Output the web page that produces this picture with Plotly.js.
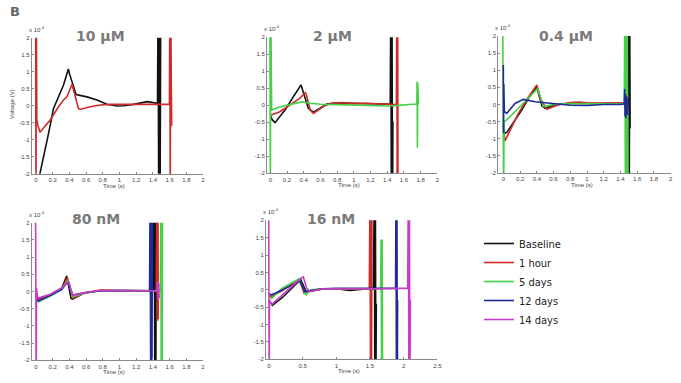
<!DOCTYPE html>
<html><head><meta charset="utf-8">
<script src="https://cdn.plot.ly/plotly-3.0.1.min.js"></script>
<style>html,body{margin:0;padding:0;background:#fff;}#chart{width:681px;height:383px;}</style>
</head><body><div id="chart"></div>
<script>
// ---------- DATA (voltage in units of 1e-4 V, time in s) ----------
const seriesNames = ["Baseline", "1 hour", "5 days", "12 days", "14 days"];
const panelTitles = ["10 µM", "2 µM", "0.4 µM", "80 nM", "16 nM"];
const xTicks = [0, 0.2, 0.4, 0.6, 0.8, 1, 1.2, 1.4, 1.6, 1.8, 2];
const xTickText = ["0", "0.2", "0.4", "0.6", "0.8", "1", "1.2", "1.4", "1.6", "1.8", "2"];
const xTicks5 = [0, 0.5, 1, 1.5, 2, 2.5];
const xTickText5 = ["0", "0.5", "1", "1.5", "2", "2.5"];
const yTicks = [-2, -1.5, -1, -0.5, 0, 0.5, 1, 1.5, 2];
const yTickText = ["-2", "-1.5", "-1", "-0.5", "0", "0.5", "1", "1.5", "2"];

// Panel 1: 10 µM
const p1_base_t = [0.02, 0.048, 0.147, 0.21, 0.33, 0.388, 0.40, 0.48, 0.61, 0.73, 0.85, 0.97, 1.05, 1.17, 1.33, 1.41, 1.455, 1.462, 1.47, 1.478, 1.486, 1.494];
const p1_base_v = [-3, -1.99, -0.86, -0.08, 0.61, 1.08, 0.95, 0.33, 0.26, 0.17, 0.04, -0.01, 0.0, 0.04, 0.12, 0.09, 0.07, 3, -3, 3, -3, 3];
const p1_1h_t = [-0.004, 0.0, 0.004, 0.01, 0.02, 0.048, 0.17, 0.27, 0.33, 0.37, 0.40, 0.432, 0.508, 0.528, 0.65, 0.77, 0.9, 1.1, 1.3, 1.5, 1.598, 1.603, 1.608, 1.613, 1.618, 1.625];
const p1_1h_v = [3, -3, 3, -0.4, -0.55, -0.78, -0.42, -0.03, 0.17, 0.26, 0.42, 0.63, -0.08, -0.11, -0.03, 0.02, 0.04, 0.04, 0.05, 0.04, 0.04, 3, -3, 3, -0.6, -0.6];

// Panel 2: 2 µM
const p2_base_t = [0.0, 0.024, 0.056, 0.176, 0.276, 0.368, 0.455, 0.516, 0.6, 0.676, 0.8, 0.95, 1.1, 1.25, 1.4, 1.436, 1.443, 1.45, 1.457, 1.464, 1.468];
const p2_base_v = [-0.3, -0.43, -0.51, -0.14, 0.25, 0.6, -0.09, -0.2, -0.08, 0.04, 0.07, 0.06, 0.05, 0.05, 0.04, 0.03, 3, -3, 3, -3, -0.48];
const p2_1h_t = [0.005, 0.017, 0.116, 0.2, 0.316, 0.36, 0.416, 0.43, 0.476, 0.516, 0.65, 0.735, 0.85, 1.0, 1.15, 1.3, 1.45, 1.51, 1.515, 1.52, 1.525, 1.53];
const p2_1h_v = [-0.3, -0.28, -0.19, -0.05, 0.16, 0.22, 0.37, 0.33, -0.14, -0.24, -0.01, 0.06, 0.08, 0.05, 0.06, 0.05, 0.03, 0.02, 3, -3, 3, -3];
const p2_5d_t = [-0.005, 0.0, 0.005, 0.016, 0.1, 0.196, 0.3, 0.376, 0.476, 0.6, 0.8, 1.0, 1.2, 1.4, 1.5, 1.6, 1.7, 1.755, 1.758, 1.762, 1.766, 1.77, 1.773, 1.78];
const p2_5d_v = [3, -3, 3, -0.14, -0.06, 0.0, 0.06, 0.1, 0.06, 0.03, 0.02, 0.0, 0.0, -0.02, -0.01, 0.02, 0.03, 0.04, 0.7, -1.25, 0.65, -1.2, 0.05, 0.05];

// Panel 3: 0.4 µM
const p3_base_t = [0.0, 0.012, 0.04, 0.22, 0.3, 0.4, 0.46, 0.5, 0.62, 0.8, 1.0, 1.2, 1.4, 1.495, 1.5, 1.505, 1.51, 1.515];
const p3_base_v = [-0.6, -0.84, -0.82, -0.16, 0.18, 0.52, -0.04, -0.11, -0.01, 0.04, 0.03, 0.04, 0.03, 0.03, 3, -3, 3, -0.7];
const p3_1h_t = [0.0, 0.02, 0.04, 0.18, 0.3, 0.4, 0.45, 0.52, 0.66, 0.8, 0.9, 1.0, 1.2, 1.4, 1.46];
const p3_1h_v = [-0.7, -1.06, -0.96, -0.26, 0.22, 0.57, 0.13, -0.14, -0.01, 0.06, 0.07, 0.05, 0.04, 0.05, 0.03];
const p3_5d_t = [-0.008, -0.004, 0.0, 0.004, 0.008, 0.04, 0.18, 0.28, 0.38, 0.41, 0.46, 0.48, 0.6, 0.8, 1.0, 1.2, 1.4, 1.445, 1.452, 1.459, 1.466, 1.473, 1.48, 1.487];
const p3_5d_v = [3, -3, 3, -3, -0.5, -0.45, -0.11, 0.13, 0.37, 0.47, 0.08, -0.06, 0.0, 0.03, 0.02, 0.03, 0.02, 0.02, 3, -3, 3, -3, 3, -3];
const p3_12d_t = [0.0, 0.003, 0.006, 0.012, 0.04, 0.14, 0.24, 0.38, 0.58, 0.8, 1.0, 1.2, 1.4, 1.445, 1.45, 1.455, 1.46, 1.465, 1.47, 1.475, 1.48, 1.485, 1.49, 1.5];
const p3_12d_v = [1.15, -0.84, 0.6, -0.2, -0.26, 0.03, 0.15, 0.08, 0.03, -0.02, -0.03, 0.0, 0.0, 0.02, 0.45, -0.35, 0.3, -0.4, 0.25, -0.3, 0.2, -0.3, 0.1, 0.0];

// Panel 4: 80 nM
const p4_base_t = [0.0, 0.03, 0.17, 0.31, 0.367, 0.42, 0.44, 0.57, 0.77, 1.0, 1.2, 1.4, 1.417, 1.423, 1.429, 1.435, 1.441];
const p4_base_v = [-0.15, -0.22, -0.1, 0.1, 0.45, -0.2, -0.22, -0.05, 0.03, 0.03, 0.03, 0.02, 3, -3, 3, -3, 3];
const p4_1h_t = [0.0, 0.03, 0.17, 0.31, 0.375, 0.445, 0.57, 0.77, 1.0, 1.2, 1.44, 1.45, 1.455, 1.46, 1.465];
const p4_1h_v = [-0.2, -0.25, -0.12, 0.08, 0.4, -0.2, -0.05, 0.04, 0.03, 0.03, 0.02, 3, -0.85, 3, -0.8];
const p4_5d_t = [0.0, 0.03, 0.17, 0.31, 0.38, 0.44, 0.57, 0.77, 1.0, 1.2, 1.4, 1.49, 1.495, 1.5, 1.505, 1.51, 1.515];
const p4_5d_v = [-0.25, -0.3, -0.13, 0.06, 0.33, -0.15, -0.06, 0.02, 0.03, 0.02, 0.02, 0.02, 3, -3, 3, -3, 3];
const p4_12d_t = [0.0, 0.03, 0.17, 0.31, 0.38, 0.44, 0.57, 0.77, 1.0, 1.2, 1.36, 1.367, 1.374, 1.381, 1.388, 1.395];
const p4_12d_v = [-0.2, -0.28, -0.12, 0.06, 0.28, -0.1, -0.04, 0.02, 0.03, 0.03, 0.02, 3, -3, 3, -3, 3];
const p4_14d_t = [-0.006, -0.003, 0.0, 0.003, 0.006, 0.02, 0.17, 0.31, 0.36, 0.39, 0.44, 0.57, 0.77, 1.0, 1.2, 1.45, 1.46, 1.465, 1.47, 1.475];
const p4_14d_v = [3, -3, 3, -3, 0.1, -0.2, -0.08, 0.1, 0.22, 0.3, -0.12, -0.04, 0.03, 0.03, 0.03, 0.02, 0.3, -0.25, 0.25, -0.2];

// Panel 5: 16 nM
const p5_base_t = [0.0, 0.05, 0.2, 0.4, 0.47, 0.55, 0.6, 0.78, 1.0, 1.2, 1.3, 1.4, 1.55, 1.565, 1.572, 1.58, 1.587, 1.594];
const p5_base_v = [-0.3, -0.45, -0.22, 0.15, 0.3, -0.05, -0.04, 0.02, 0.03, -0.02, 0.0, 0.02, 0.02, 3, -3, 3, -3, -0.4];
const p5_1h_t = [0.0, 0.03, 0.2, 0.4, 0.45, 0.52, 0.6, 0.8, 1.0, 1.3, 1.49, 1.5, 1.508, 1.515, 1.522, 1.53];
const p5_1h_v = [-0.15, -0.2, -0.02, 0.22, 0.3, -0.1, -0.03, 0.03, 0.03, 0.02, 0.02, 3, -3, 3, -3, 3];
const p5_5d_t = [0.0, 0.04, 0.19, 0.43, 0.45, 0.535, 0.55, 0.62, 0.8, 1.0, 1.3, 1.6, 1.658, 1.665, 1.673, 1.68, 1.688];
const p5_5d_v = [-0.2, -0.25, 0.04, 0.28, 0.32, -0.1, -0.15, 0.0, 0.03, 0.03, 0.02, 0.03, 0.03, 1.45, -3, 1.45, -3];
const p5_12d_t = [0.0, 0.03, 0.2, 0.4, 0.46, 0.53, 0.6, 0.8, 1.0, 1.3, 1.6, 1.88, 1.886, 1.893, 1.9, 1.906, 1.91];
const p5_12d_v = [-0.1, -0.15, 0.0, 0.2, 0.25, -0.05, -0.03, 0.03, 0.04, 0.03, 0.04, 0.04, 3, -3, 3, -3, -0.3];
const p5_14d_t = [-0.006, -0.003, 0.0, 0.003, 0.006, 0.04, 0.2, 0.41, 0.486, 0.51, 0.56, 0.61, 0.78, 1.0, 1.3, 1.6, 1.9, 2.06, 2.07, 2.078, 2.085, 2.092, 2.1, 2.11];
const p5_14d_v = [3, -3, 3, -3, -0.3, -0.42, -0.15, 0.23, 0.35, 0.37, 0.04, -0.05, 0.02, 0.03, 0.02, 0.03, 0.04, 0.04, 3, -3, 3, -3, -0.3, -0.3];

// ---------- STYLE / LAYOUT ----------
const W = 681, H = 383;
const colors = {"Baseline": "#111111", "1 hour": "#d02a2a", "5 days": "#45d045", "12 days": "#1d2a98", "14 days": "#c93cc9"};
const fx = px => px / W;
const fy = px => 1 - px / H;

// pixel boxes of each panel: left, right, top, bottom ; x range
const panels = [
  {left: 31.8, right: 203, top: 37.7, bottom: 173.7, range: [-0.05, 2], five: false,
   series: [["Baseline", p1_base_t, p1_base_v], ["1 hour", p1_1h_t, p1_1h_v]]},
  {left: 267.0, right: 437.3, top: 37.3, bottom: 173.3, range: [-0.04, 2], five: false,
   series: [["Baseline", p2_base_t, p2_base_v], ["1 hour", p2_1h_t, p2_1h_v], ["5 days", p2_5d_t, p2_5d_v]]},
  {left: 498.3, right: 670.7, top: 36, bottom: 173, range: [-0.06, 2], five: false,
   series: [["Baseline", p3_base_t, p3_base_v], ["1 hour", p3_1h_t, p3_1h_v], ["5 days", p3_5d_t, p3_5d_v], ["12 days", p3_12d_t, p3_12d_v]]},
  {left: 31.8, right: 203, top: 222.7, bottom: 360.3, range: [-0.05, 2], five: false,
   series: [["Baseline", p4_base_t, p4_base_v], ["1 hour", p4_1h_t, p4_1h_v], ["5 days", p4_5d_t, p4_5d_v], ["12 days", p4_12d_t, p4_12d_v], ["14 days", p4_14d_t, p4_14d_v]]},
  {left: 266.0, right: 437.3, top: 220.3, bottom: 359.3, range: [-0.045, 2.5], five: true,
   series: [["Baseline", p5_base_t, p5_base_v], ["1 hour", p5_1h_t, p5_1h_v], ["5 days", p5_5d_t, p5_5d_v], ["12 days", p5_12d_t, p5_12d_v], ["14 days", p5_14d_t, p5_14d_v]]}
];
const titlePos = [[100, 36], [332, 36.5], [566, 36], [95.5, 219.3], [331, 219.3]];

const traces = [];
const seen = {};
const layout = {
  width: W, height: H, margin: {l: 0, r: 0, t: 0, b: 0},
  paper_bgcolor: "#ffffff", plot_bgcolor: "rgba(0,0,0,0)",
  font: {family: "Liberation Sans, Arial, sans-serif", color: "#444"},
  showlegend: true,
  legend: {x: fx(479), y: fy(229), xanchor: "left", yanchor: "top", bgcolor: "rgba(0,0,0,0)",
           font: {family: "DejaVu Sans Condensed, Liberation Sans Narrow, Arial Narrow, sans-serif", size: 11, color: "#222"},
           tracegroupgap: 0, itemwidth: 30},
  annotations: [], hovermode: false
};

panels.forEach((p, i) => {
  const n = i === 0 ? "" : String(i + 1);
  const xa = "x" + n, ya = "y" + n;
  layout["xaxis" + n] = {
    domain: [fx(p.left), fx(p.right)], range: p.range, anchor: ya,
    tickvals: p.five ? xTicks5 : xTicks, ticktext: p.five ? xTickText5 : xTickText,
    showline: true, linecolor: "#8a8a8a", linewidth: 1, ticks: "inside", ticklen: 2, tickcolor: "#8a8a8a",
    tickfont: {size: 6, color: "#444"}, showgrid: false, zeroline: false, fixedrange: true
  };
  layout["yaxis" + n] = {
    domain: [fy(p.bottom), fy(p.top)], range: [-2, 2], anchor: xa,
    tickvals: yTicks, ticktext: yTickText,
    showline: true, linecolor: "#8a8a8a", linewidth: 1, ticks: "inside", ticklen: 2, tickcolor: "#8a8a8a",
    tickfont: {size: 6, color: "#444"}, showgrid: false, zeroline: false, fixedrange: true
  };
  p.series.forEach(([name, t, v]) => {
    traces.push({
      type: "scatter", mode: "lines", x: t, y: v, xaxis: xa, yaxis: ya,
      name: name, legendgroup: name, showlegend: !seen[name],
      line: {color: colors[name], width: 1.6}, hoverinfo: "skip"
    });
    seen[name] = true;
  });
  // panel title
  layout.annotations.push({text: "<b>" + panelTitles[i] + "</b>", xref: "paper", yref: "paper",
    x: fx(titlePos[i][0]), y: fy(titlePos[i][1]), xanchor: "center", yanchor: "middle", showarrow: false,
    font: {family: "DejaVu Sans, Verdana, sans-serif", size: 14, color: "#7a7a7a"}});
  // x axis label
  layout.annotations.push({text: "Time (s)", xref: "paper", yref: "paper",
    x: fx((p.left + p.right) / 2 - 3), y: fy(p.bottom + 12), xanchor: "center", yanchor: "middle", showarrow: false,
    font: {size: 6, color: "#444"}});
  // exponent label
  layout.annotations.push({text: "x 10<sup>-4</sup>", xref: "paper", yref: "paper",
    x: fx(p.left - 5), y: fy(p.top - 3), xanchor: "left", yanchor: "bottom", showarrow: false,
    font: {size: 6, color: "#444"}});
});

layout.annotations.push({text: "Voltage (V)", xref: "paper", yref: "paper", x: fx(12), y: fy(104),
  xanchor: "center", yanchor: "middle", textangle: -90, showarrow: false, font: {size: 6, color: "#444"}});
layout.annotations.push({text: "<b>B</b>", xref: "paper", yref: "paper", x: fx(14.5), y: fy(11),
  xanchor: "center", yanchor: "middle", showarrow: false,
  font: {family: "DejaVu Sans, Verdana, sans-serif", size: 13, color: "#666"}});

Plotly.newPlot("chart", traces, layout, {staticPlot: true, displayModeBar: false});
</script>
</body></html>
